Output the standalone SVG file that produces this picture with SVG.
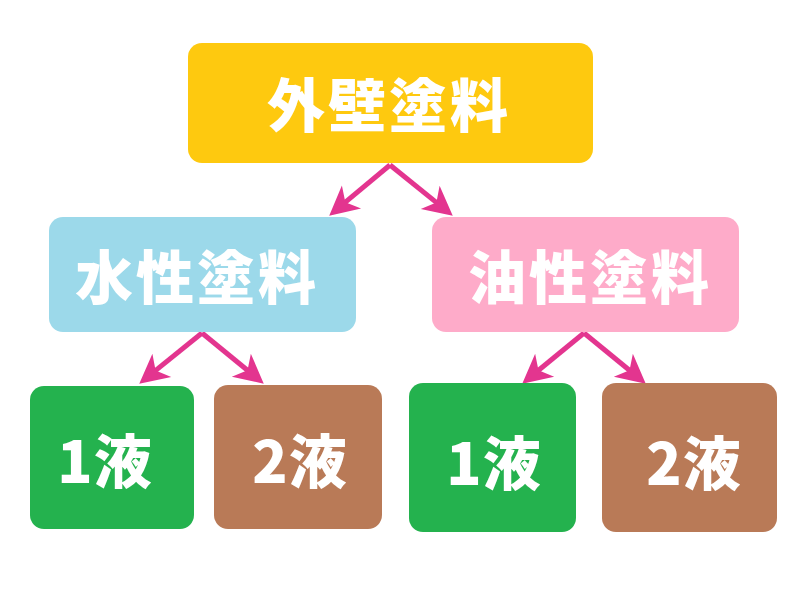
<svg xmlns="http://www.w3.org/2000/svg" width="800" height="600" viewBox="0 0 800 600">
<style>
.lbl{font-family:"Noto Sans CJK JP","Noto Sans CJK SC",sans-serif;font-weight:900;fill:#ffffff;text-anchor:middle;font-size:58px;letter-spacing:3px}
.num{font-size:58px;letter-spacing:1px}
.conn{stroke:#e3358f;stroke-width:5;fill:none;stroke-linejoin:miter;marker-end:url(#ah)}
</style>
<defs>
<marker id="ah" markerUnits="userSpaceOnUse" orient="auto" overflow="visible" markerWidth="1" markerHeight="1" refX="0" refY="0">
<path d="M16,0 L-13,-15 L-5,0 L-13,15 Z" fill="#e3358f"/>
</marker>
</defs>
<rect width="800" height="600" fill="#ffffff"/>
<g id="connectors">
<path class="conn" d="M390,165 L341.5,205.4"/>
<path class="conn" d="M390,165 L440.3,205.6"/>
<path class="conn" d="M202,333 L151.7,373.6"/>
<path class="conn" d="M202,333 L251.4,373.5"/>
<path class="conn" d="M584,333 L534.6,373.5"/>
<path class="conn" d="M584,333 L633.4,373.5"/>
</g>
<g id="gaiheki">
<rect x="188" y="43" width="405" height="120" rx="14" fill="#fec90f"/>
<text class="lbl" x="389" y="127">外壁塗料</text>
</g>
<g id="suisei">
<rect x="49" y="217" width="307" height="115" rx="14" fill="#9cd9ea"/>
<text class="lbl" x="197" y="299">水性塗料</text>
</g>
<g id="yusei">
<rect x="432" y="217" width="307" height="115" rx="14" fill="#feabc9"/>
<text class="lbl" x="590" y="299">油性塗料</text>
</g>
<g id="suisei-1eki">
<rect x="30" y="386" width="164" height="143" rx="14" fill="#24b24e"/>
<text class="lbl num" x="105" y="483">1液</text>
</g>
<g id="suisei-2eki">
<rect x="214" y="385" width="168" height="144" rx="14" fill="#b97a57"/>
<text class="lbl num" x="300" y="483">2液</text>
</g>
<g id="yusei-1eki">
<rect x="409" y="383" width="167" height="149" rx="14" fill="#24b24e"/>
<text class="lbl num" x="494" y="485">1液</text>
</g>
<g id="yusei-2eki">
<rect x="602" y="383" width="175" height="149" rx="14" fill="#b97a57"/>
<text class="lbl num" x="694" y="485">2液</text>
</g>
</svg>
